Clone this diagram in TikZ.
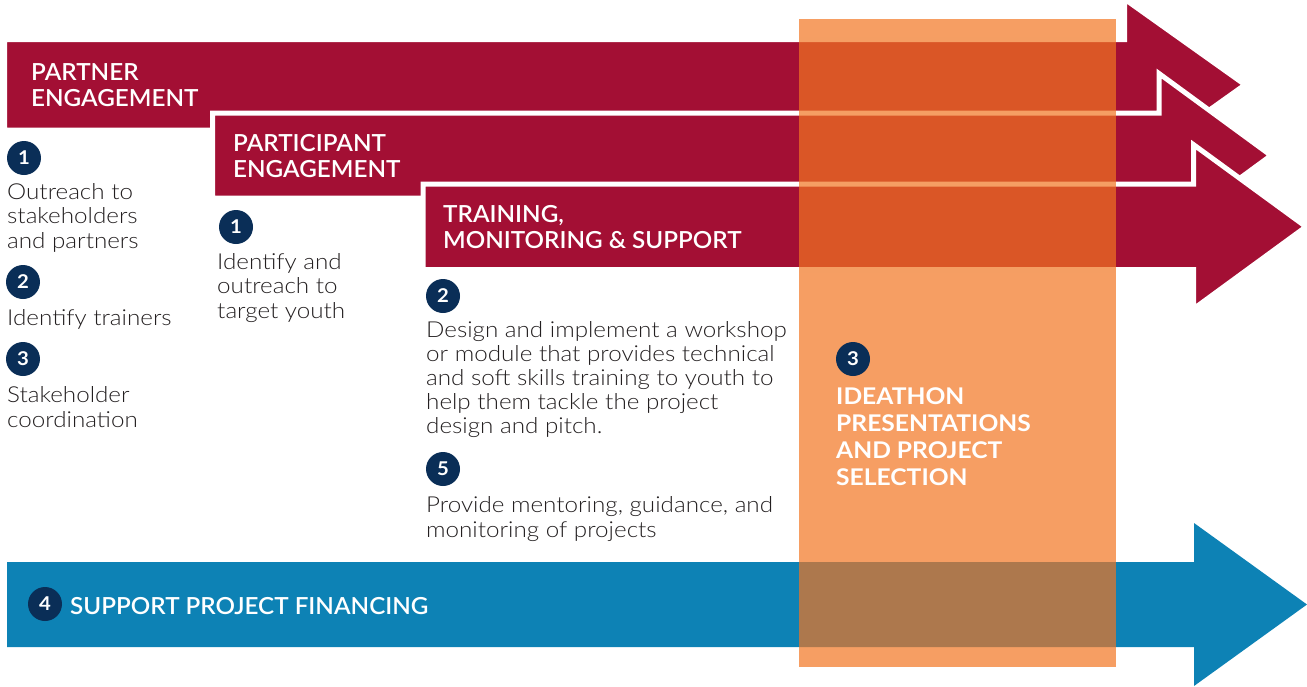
\documentclass[tikz,border=0pt]{standalone}
\usepackage{fontspec}
\setmainfont{Lato}
\newfontfamily\lightfam{Lato Light}[FakeStretch=1.1]
\newfontfamily\headfam{Lato Semibold}[FakeStretch=1.03]
\newfontfamily\heavyfam{Lato Bold}[FakeStretch=1.07]
\definecolor{stagered}{HTML}{A30F34}
\definecolor{fundblue}{HTML}{0D82B5}
\definecolor{navy}{HTML}{0A2E57}
\definecolor{pitchorange}{HTML}{F27521}
\definecolor{ink}{HTML}{231F20}

\begin{document}
\begin{tikzpicture}[x=1pt,y=-1pt,
    band/.style={fill=stagered,draw=white,line width=5pt,miter limit=20},
    num/.style={circle,fill=navy,text=white,minimum size=34pt,inner sep=0pt,
                font=\heavyfam\fontsize{19}{19}\selectfont},
    head/.style={anchor=base west,align=left,inner sep=0pt,text=white,
                 font=\headfam\fontsize{23.5}{26}\selectfont},
    body/.style={anchor=base west,align=left,inner sep=0pt,text=ink,
                 font=\lightfam\fontsize{22}{24.4}\selectfont}]
    \useasboundingbox (0,0) rectangle (1307,686);

    % the three stage arrows, each one on top of the previous
    \draw[band] (4.5,39.5)--(1124.5,39.5)--(1124.5,-1)--(1245,84.75)
                --(1124.5,170.5)--(1124.5,130)--(4.5,130)--cycle;
    \draw[band] (212.5,113)--(1159,113)--(1159,73.5)--(1271,155.5)
                --(1159,237.5)--(1159,198)--(212.5,198)--cycle;
    \draw[band] (423,184)--(1193.7,184)--(1193.7,144.75)--(1306,226.75)
                --(1193.7,308.75)--(1193.7,269.5)--(423,269.5)--cycle;

    % financing arrow along the bottom
    \fill[fundblue] (7,562)--(1194,562)--(1194,523)--(1307,604.5)
                    --(1194,686)--(1194,647)--(7,647)--cycle;

    % see-through column for the ideathon
    \fill[pitchorange,opacity=0.7] (799,18.5) rectangle (1116,667);

    % partner engagement (multi-line nodes sit on their last baseline)
    \node[head] (partner) at (31,106) {PARTNER\\ENGAGEMENT};
    \node[num] (p1) at (24,158) {1};
    \node[body] (p1txt) at (7,248) {Outreach to\\stakeholders\\and partners};
    \node[num] (p2) at (23,282) {2};
    \node[body] (p2txt) at (7,325) {Identify trainers};
    \node[num] (p3) at (23,359) {3};
    \node[body] (p3txt) at (7,427) {Stakeholder\\coordination};

    % participant engagement
    \node[head] (participant) at (233,177) {PARTICIPANT\\ENGAGEMENT};
    \node[num] (q1) at (236,227) {1};
    \node[body] (q1txt) at (217,318) {Identify and\\outreach to\\target youth};

    % training, monitoring and support
    \node[head] (training) at (443,248) {TRAINING,\\MONITORING \& SUPPORT};
    \node[num] (t2) at (443,296) {2};
    \node[body,font=\lightfam\fontsize{22}{24}\selectfont] (t2txt) at (426,433)
        {Design and implement a workshop\\or module that provides technical\\and soft skills training to youth to\\help them tackle the project\\design and pitch.};
    \node[num] (t5) at (443,469) {5};
    \node[body] (t5txt) at (426,537) {Provide mentoring, guidance, and\\monitoring of projects};

    % ideathon
    \node[num] (i3) at (853,359) {3};
    \node[head,font=\heavyfam\fontsize{23}{26.7}\selectfont] (ideathon) at (836,485)
        {IDEATHON\\PRESENTATIONS\\AND PROJECT\\SELECTION};

    % financing
    \node[num] (f4) at (45,604) {4};
    \node[head] (financing) at (70,614) {SUPPORT PROJECT FINANCING};
\end{tikzpicture}
\end{document}
